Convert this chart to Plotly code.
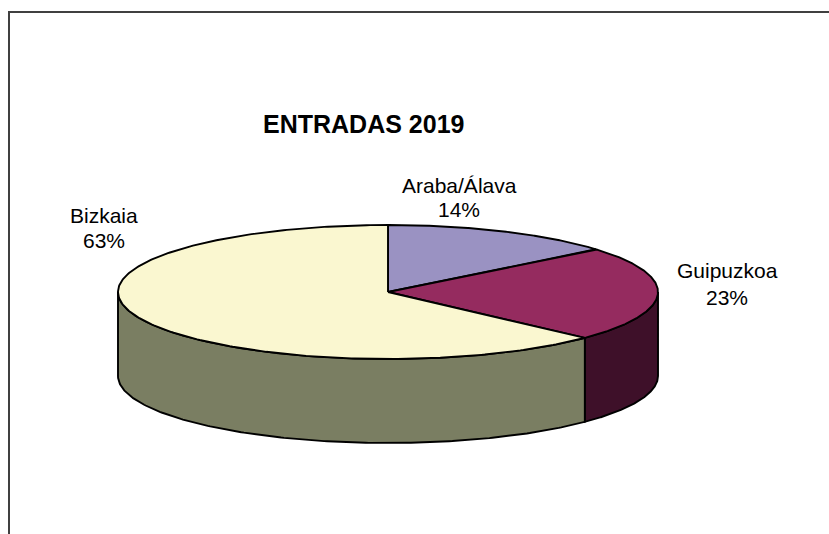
import numpy as np
import plotly.graph_objects as go

# Data: share of entries per province (%)
provinces = ["Araba/Álava", "Guipuzkoa", "Bizkaia"]
entries_pct = [14, 23, 63]
top_colors = ["#9A92C2", "#952B5F", "#FAF7D0"]
side_colors = ["#5C567C", "#3E1029", "#7A7E62"]
chart_title = "ENTRADAS 2019"

# Canvas and pie geometry (pixel units on hidden axes)
W, H = 829, 534
cx, cy = 388, 292
rx, ry = 270, 67
depth = 84
FONT = "Liberation Sans, Arial, sans-serif"
OUTLINE = 1.9


def ellipse_pts(theta_deg, dy=0.0):
    t = np.radians(theta_deg)
    return cx + rx * np.cos(t), cy - ry * np.sin(t) + dy


total = float(sum(entries_pct))
cum = np.concatenate([[0.0], np.cumsum(entries_pct)])
# angles measured counter-clockwise from 3 o'clock; slices run clockwise from 12 o'clock
starts = 90.0 - 360.0 * cum[:-1] / total
ends = 90.0 - 360.0 * cum[1:] / total

fig = go.Figure()

# Visible side walls: the part of each slice's rim lying in the front half
for i in range(len(entries_pct)):
    lo, hi = ends[i], starts[i]
    for k in (-1, 0, 1):
        a = max(lo, -180.0 + 360.0 * k)
        b = min(hi, 0.0 + 360.0 * k)
        if b - a <= 1e-6:
            continue
        th = np.linspace(a, b, 200)
        xt, yt = ellipse_pts(th)
        xb, yb = ellipse_pts(th[::-1], depth)
        xs = np.concatenate([xt, xb, xt[:1]])
        ys = np.concatenate([yt, yb, yt[:1]])
        fig.add_trace(go.Scatter(
            x=xs, y=ys, mode="lines", fill="toself",
            fillcolor=side_colors[i],
            line=dict(color="black", width=OUTLINE),
            hoverinfo="skip", showlegend=False,
        ))

# Top faces of the slices
for i in range(len(entries_pct)):
    th = np.linspace(starts[i], ends[i], 300)
    xa, ya = ellipse_pts(th)
    xs = np.concatenate([[cx], xa, [cx]])
    ys = np.concatenate([[cy], ya, [cy]])
    fig.add_trace(go.Scatter(
        x=xs, y=ys, mode="lines", fill="toself",
        fillcolor=top_colors[i],
        line=dict(color="black", width=OUTLINE),
        hoverinfo="skip", showlegend=False,
        name=provinces[i],
    ))

# Data labels: category name above its percentage
label_pos = {
    "Araba/Álava": (459, 185, 209),
    "Guipuzkoa": (727, 270, 297),
    "Bizkaia": (104, 215, 240),
}
annotations = []
for name, val in zip(provinces, entries_pct):
    x, y1, y2 = label_pos[name]
    pct = f"{round(100 * val / total):d}%"
    for txt, yy in ((name, y1), (pct, y2)):
        annotations.append(dict(
            x=x, y=yy, xref="x", yref="y", text=txt, showarrow=False,
            xanchor="center", yanchor="middle",
            font=dict(family=FONT, size=21, color="black"),
        ))

annotations.append(dict(
    x=363, y=124, xref="x", yref="y", text=f"<b>{chart_title}</b>",
    showarrow=False, xanchor="center", yanchor="middle",
    font=dict(family=FONT, size=25, color="black"),
))

fig.update_layout(
    width=W, height=H,
    margin=dict(l=0, r=0, t=0, b=0),
    paper_bgcolor="white", plot_bgcolor="white",
    xaxis=dict(range=[0, W], visible=False, fixedrange=True),
    yaxis=dict(range=[H, 0], visible=False, fixedrange=True),
    annotations=annotations,
    shapes=[dict(
        type="path", xref="x", yref="y",
        path=f"M9,{H} L9,12 L{W},12",
        line=dict(color="#404040", width=2),
    )],
    showlegend=False,
)

fig.write_html("out.html", config={"displayModeBar": False})
